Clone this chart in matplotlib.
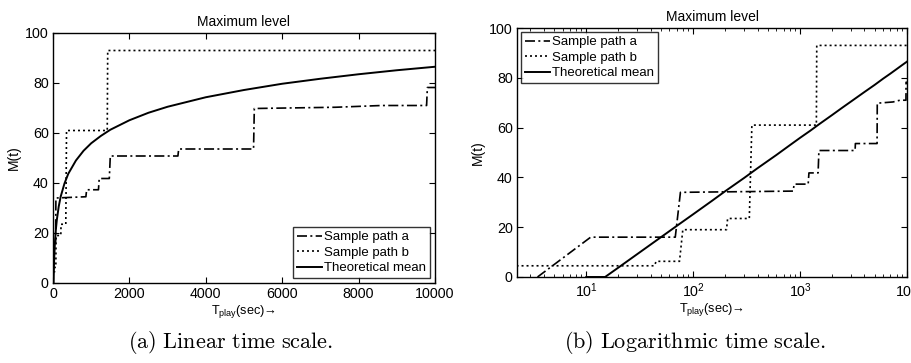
import matplotlib
matplotlib.use('Agg')
import matplotlib.pyplot as plt

plt.rcParams['font.family'] = ['Liberation Sans', 'DejaVu Sans']
plt.rcParams['font.size'] = 10

# sample path a (t in sec, max level)
t_a = [3.5, 11, 68, 76, 861, 880, 1190, 1210, 1474, 1500, 3270, 3290, 5250, 5270, 7400, 8600, 9780, 9800, 10000]
m_a = [0, 16, 16, 34, 34.5, 37.3, 37.3, 41.8, 41.8, 50.8, 50.8, 53.6, 53.6, 69.8, 70.3, 71, 71, 78.2, 78.2]

# sample path b
t_b = [2, 43.5, 45, 74.5, 80, 205, 210, 335, 354, 1420, 1432, 10000]
m_b = [4.5, 4.5, 6.3, 6.3, 19, 19, 23.5, 23.5, 61, 61, 93, 93]

# theoretical mean
t_mean = [10, 15, 20, 30, 50, 75, 100, 150, 200, 300, 400, 600, 800, 1000, 1250, 1500,
          2000, 2500, 3000, 4000, 5000, 6000, 7000, 8000, 9000, 10000]
m_mean = [0, 0, 3.8, 9.2, 16, 21.4, 25.2, 30.6, 34.5, 39.8, 43.7, 49.0, 52.9, 55.9, 58.8, 61.3,
          65.1, 68.1, 70.5, 74.3, 77.2, 79.7, 81.7, 83.5, 85.1, 86.5]

W, H = 912, 363
fig = plt.figure(figsize=(W / 100, H / 100), dpi=100)


def box(l, r, t, b):
    return [l / W, 1 - b / H, (r - l) / W, (b - t) / H]


def style(ax):
    ax.tick_params(which='both', direction='in', top=True, right=True, labelsize=10.3, pad=3)
    ax.tick_params(which='major', length=4)
    ax.tick_params(which='minor', length=2)
    for s in ax.spines.values():
        s.set_linewidth(1.0)
    ax.set_ylim(0, 100)
    ax.set_yticks([0, 20, 40, 60, 80, 100])
    ax.set_title('Maximum level', fontsize=10, pad=5)
    ax.set_ylabel('M(t)', fontsize=10, labelpad=3)
    ax.set_xlabel(r'T$_{\mathregular{play}}$(sec)→', fontsize=9.2, labelpad=1)


def draw(ax):
    ax.plot(t_a, m_a, color='black', linestyle=(0, (6, 2, 1.2, 2)), lw=1.2, label='Sample path a')
    ax.plot(t_b, m_b, color='black', linestyle=(0, (1.2, 1.8)), lw=1.2, label='Sample path b')
    ax.plot(t_mean, m_mean, color='black', lw=1.4, label='Theoretical mean')


def legend(ax, loc, pad):
    leg = ax.legend(loc=loc, fontsize=9.5, fancybox=False, edgecolor='black',
                    borderaxespad=pad, handlelength=1.9, handletextpad=0.15, borderpad=0.3,
                    labelspacing=0.25)
    leg.get_frame().set_linewidth(1.0)


ax1 = fig.add_axes(box(53, 435, 33, 283))
draw(ax1)
ax1.plot([0, 10], [0, 0], color='black', lw=1.4)
ax1.set_xlim(0, 10000)
ax1.set_xticks([0, 2000, 4000, 6000, 8000, 10000])
style(ax1)
legend(ax1, 'lower right', 0.35)

ax2 = fig.add_axes(box(517, 907, 28, 277))
draw(ax2)
ax2.set_xscale('log')
ax2.set_xlim(2.25, 10000)
style(ax2)
legend(ax2, 'upper left', 0.3)

fig.text(231 / W, 1 - 342 / H, r'$\mathrm{(a)\ Linear\ time\ scale.}$', ha='center', va='center',
         fontsize=16, math_fontfamily='cm')
fig.text(695 / W, 1 - 342 / H, r'$\mathrm{(b)\ Logarithmic\ time\ scale.}$', ha='center', va='center',
         fontsize=16, math_fontfamily='cm')

fig.savefig('out.png', dpi=100)
